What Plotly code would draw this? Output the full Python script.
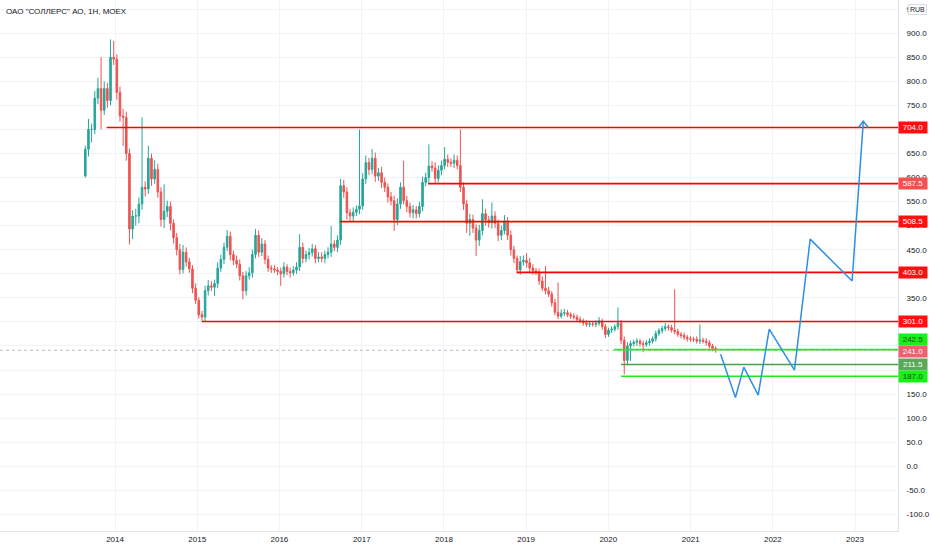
import plotly.graph_objects as go
import pandas as pd

title_text = 'ОАО "СОЛЛЕРС" АО, 1Н, MOEX'

# ---- candle data (14-day bars) ----
start_date = "2013-08-22"
first_open = 603.0
closes = [
    659, 700, 700, 765, 785, 740, 785, 760, 850, 846, 777, 728, 725, 650, 493, 520, 520, 545, 580, 576,
    640, 597, 617, 570, 513, 530, 540, 505, 475,
    450, 409, 445, 425, 410, 370, 345, 315, 310, 365, 375, 372, 380, 412, 430, 455, 478, 440, 428, 420,
    396, 365, 396, 402, 440, 480, 445, 462, 430, 412, 410, 408, 405, 400, 414, 405, 402, 408, 414, 455,
    432, 440, 444, 452, 432, 435,
    432, 440, 445, 462, 455, 470, 583, 570, 527, 520, 528, 534, 541, 597, 631, 617, 640, 603, 610, 590,
    580, 560, 552, 513, 545, 580, 552, 540, 527, 533, 525, 540, 590, 600, 624, 620, 598, 615, 625, 638,
    632, 630, 636, 625, 580, 545, 505, 513, 495, 470, 490, 525, 512, 506, 520, 505, 480, 490, 510, 480,
    450, 432, 408, 425, 428, 423, 412, 406, 403, 385, 370, 365, 358, 340, 320, 312, 318, 319, 315, 312,
    310, 305,
    302, 298, 295, 296, 295, 297, 302, 290, 274, 283, 285, 290, 298, 262, 220, 250, 255, 258, 260, 255,
    253, 257, 260, 265, 276, 282, 286, 290, 288, 283, 280, 274, 272, 268, 265, 264, 264, 260, 262, 260,
    257, 250, 245, 241,
]
wick_up = [
    7, 22, 12, 15, 22, 65, 15, 12, 37, 34, 10, 12, 15, 12, 10, 12, 15, 14, 145, 12,
    26, 10, 19, 12, 10, 56, 12, 10, 8,
    10, 12, 15, 10, 8, 8, 10, 6, 8, 10, 12, 10, 8, 12, 10, 10, 13, 10, 8, 10,
    10, 8, 10, 12, 10, 13, 10, 12, 8, 8, 6, 8, 6, 8, 10, 6, 8, 8, 10, 27,
    10, 8, 10, 10, 8, 10,
    10, 8, 10, 37, 8, 10, 14, 12, 10, 8, 10, 8, 159, 12, 15, 10, 19, 12, 10, 12,
    10, 8, 10, 10, 12, 10, 55, 10, 8, 10, 8, 10, 12, 10, 45, 10, 12, 10, 10, 25,
    10, 8, 12, 10, 75, 10, 8, 12, 10, 8, 12, 30, 10, 8, 28, 10, 8, 10, 12, 8,
    10, 8, 6, 12, 10, 15, 10, 8, 6, 8, 10, 46, 8, 6, 8, 62, 8, 8, 6, 5,
    6, 5,
    6, 5, 5, 6, 5, 6, 8, 5, 6, 5, 6, 5, 32, 6, 8, 8, 6, 5, 6, 5,
    6, 5, 6, 5, 6, 5, 6, 8, 5, 6, 85, 6, 5, 6, 5, 6, 5, 6, 33, 5,
    6, 5, 4, 4,
]
wick_dn = [
    3, 15, 27, 10, 12, 40, 10, 15, 10, 12, 15, 12, 59, 15, 32, 21, 20, 15, 12, 15,
    10, 14, 10, 12, 15, 18, 12, 15, 12,
    12, 10, 8, 10, 8, 10, 8, 8, 9, 8, 10, 8, 18, 10, 8, 10, 8, 12, 10, 8,
    10, 18, 10, 8, 10, 8, 10, 8, 10, 8, 8, 6, 8, 25, 8, 8, 10, 6, 8, 8,
    10, 8, 10, 8, 10, 8,
    8, 10, 8, 10, 8, 10, 10, 12, 14, 12, 10, 8, 10, 8, 10, 12, 10, 12, 10, 12,
    10, 12, 10, 24, 12, 10, 8, 12, 10, 12, 10, 8, 10, 8, 10, 8, 12, 8, 10, 8,
    10, 8, 10, 8, 10, 12, 20, 26, 10, 33, 12, 10, 12, 10, 12, 10, 12, 10, 8, 10,
    12, 10, 8, 10, 8, 10, 8, 8, 6, 8, 6, 8, 6, 8, 6, 6, 5, 6, 5, 6,
    5, 6,
    5, 6, 5, 6, 5, 6, 5, 6, 8, 5, 6, 5, 6, 8, 29, 10, 31, 6, 8, 6,
    16, 5, 6, 5, 6, 5, 6, 5, 6, 5, 6, 5, 6, 5, 6, 5, 6, 5, 6, 5,
    6, 5, 6, 5,
]

# ---- horizontal levels ----
level_values = [704.0, 587.5, 508.5, 403.0, 301.0, 242.5, 211.5, 187.0]
level_starts = ["2013-11-25", "2017-10-22", "2016-09-26", "2018-11-21", "2015-01-22",
                "2020-01-27", "2020-02-27", "2020-02-27"]
level_colors = ["#ff0000", "#ff0000", "#ff0000", "#ff0000", "#ff0000",
                "#2fe02f", "#4a9e4a", "#22e622"]
label_bg = ["#ff1010", "#f45050", "#ff1010", "#ff1010", "#ff1010",
            "#18f018", "#5aa85a", "#18f018"]
label_fg = ["#ffffff", "#ffffff", "#ffffff", "#ffffff", "#ffffff",
            "#1b4d1b", "#ffffff", "#1b4d1b"]
label_shift = [0, 0, 0, 0, 0, 10, 0, 0]

last_price = 241.0

# ---- projected path (blue) ----
path_dates = ["2021-05-14", "2021-07-19", "2021-08-25", "2021-10-28", "2021-12-16",
              "2022-04-07", "2022-06-16", "2022-12-19", "2023-02-07"]
path_values = [233, 143, 206, 148, 285, 200, 472, 385, 717]
wing_dates = ["2023-01-16", "2023-02-07", "2023-03-01"]
wing_values = [704, 717, 704]

x_range = ["2012-08-08", "2023-07-11"]
x_tick_years = [2014, 2015, 2016, 2017, 2018, 2019, 2020, 2021, 2022, 2023]
y_range = [-134.5, 969]
y_ticks = list(range(-100, 951, 50))
y_hidden_ticks = [700, 400, 300, 250, 200]  # hidden behind price labels

dates = pd.date_range(start_date, periods=len(closes), freq="14D")
opens = [first_open] + closes[:-1]
highs = [max(o, c) + u for o, c, u in zip(opens, closes, wick_up)]
lows = [min(o, c) - d for o, c, d in zip(opens, closes, wick_dn)]

fig = go.Figure()

# last price dotted line
fig.add_trace(go.Scatter(x=x_range, y=[last_price, last_price], mode="lines",
                         line=dict(color="#b8bcc6", width=1, dash="dot"),
                         hoverinfo="skip", showlegend=False))

fig.add_trace(go.Candlestick(
    x=dates, open=opens, high=highs, low=lows, close=closes,
    increasing=dict(line=dict(color="#26a69a", width=1), fillcolor="#26a69a"),
    decreasing=dict(line=dict(color="#ef5350", width=1), fillcolor="#ef5350"),
    whiskerwidth=0, showlegend=False))

for v, s, c in zip(level_values, level_starts, level_colors):
    fig.add_trace(go.Scatter(x=[s, x_range[1]], y=[v, v], mode="lines",
                             line=dict(color=c, width=1.6),
                             hoverinfo="skip", showlegend=False))

fig.add_trace(go.Scatter(x=path_dates, y=path_values, mode="lines",
                         line=dict(color="#2f8fe0", width=1.5),
                         hoverinfo="skip", showlegend=False))
fig.add_trace(go.Scatter(x=wing_dates, y=wing_values, mode="lines",
                         line=dict(color="#2f8fe0", width=1.5),
                         hoverinfo="skip", showlegend=False))

annotations = []
for v, bg, fg, sh in zip(level_values, label_bg, label_fg, label_shift):
    annotations.append(dict(x=1, xref="paper", y=v, yref="y", xanchor="left",
                            text="%.1f" % v, showarrow=False, yshift=sh,
                            bgcolor=bg, font=dict(color=fg, size=8, family="Liberation Sans"),
                            width=28, height=11, borderpad=0, align="center"))
annotations.append(dict(x=1, xref="paper", y=last_price, yref="y", xanchor="left",
                        text="%.1f" % last_price, showarrow=False, yshift=-1,
                        bgcolor="#f06070", font=dict(color="#ffffff", size=8, family="Liberation Sans"),
                        width=28, height=11, borderpad=0, align="center"))
annotations.append(dict(x=1, xref="paper", y=950, yref="y", xanchor="left", xshift=10,
                        text="RUB", showarrow=False, bgcolor="#ffffff",
                        bordercolor="#d8dbe2", borderwidth=1, borderpad=1,
                        font=dict(color="#131722", size=7, family="Liberation Sans")))
annotations.append(dict(x=0, xref="paper", y=1, yref="paper", xanchor="left", yanchor="top",
                        xshift=4, yshift=-5, text=title_text, showarrow=False,
                        font=dict(color="#131722", size=8, family="Liberation Sans")))

y_ticktext = ["" if t in y_hidden_ticks else "%.1f" % t for t in y_ticks]

fig.update_layout(
    width=932, height=550,
    margin=dict(l=0, r=34, t=0, b=19),
    paper_bgcolor="#ffffff", plot_bgcolor="#ffffff",
    annotations=annotations,
    xaxis=dict(range=x_range, type="date", rangeslider=dict(visible=False),
               tickvals=["%d-01-01" % y for y in x_tick_years],
               ticktext=[str(y) for y in x_tick_years],
               showgrid=True, gridcolor="#f0f2f6", gridwidth=1,
               showline=True, linecolor="#e0e3eb", ticks="", zeroline=False,
               tickfont=dict(size=8, color="#131722", family="Liberation Sans")),
    yaxis=dict(range=y_range, side="right", tickvals=y_ticks, ticktext=y_ticktext,
               showgrid=True, gridcolor="#f0f2f6", gridwidth=1,
               showline=True, linecolor="#e0e3eb", ticks="", zeroline=False,
               ticklabelstandoff=6,
               tickfont=dict(size=8, color="#131722", family="Liberation Sans")),
    hovermode=False,
)

fig.write_html("out.html", config={"displayModeBar": False},
               post_script="document.body.style.margin='0px';document.body.style.overflow='hidden';")
